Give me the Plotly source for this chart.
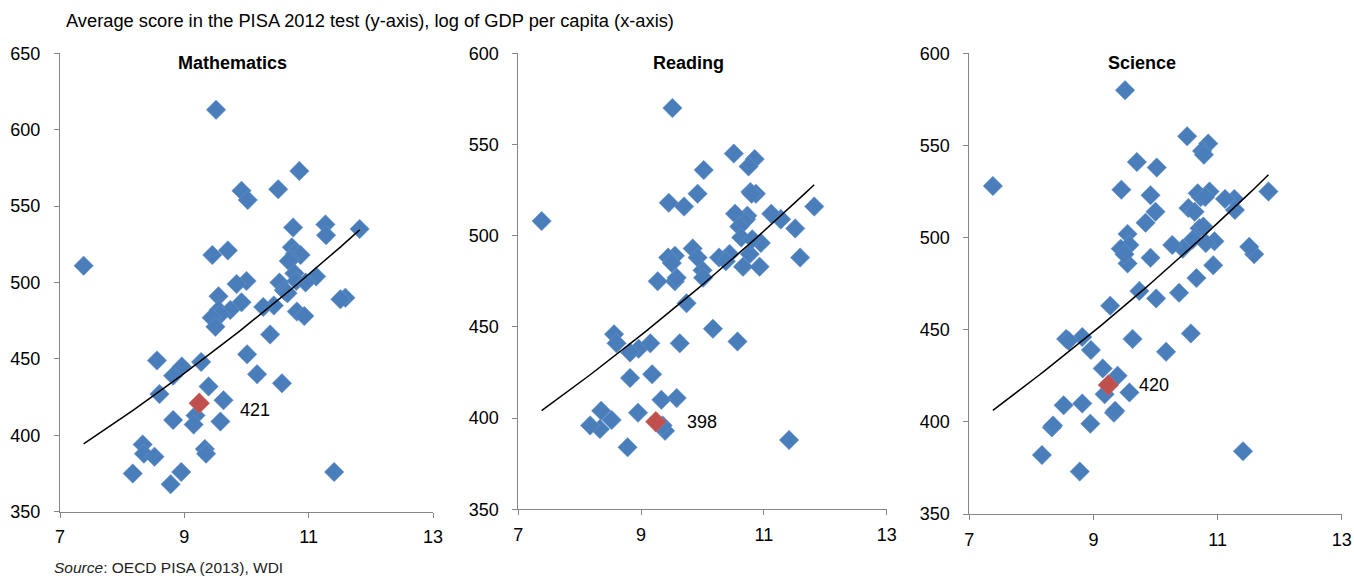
import numpy as np
import plotly.graph_objects as go

countries = ["Shanghai", "Singapore", "Hong Kong", "Chinese Taipei", "Korea", "Macao", "Japan",
             "Liechtenstein", "Switzerland", "Netherlands", "Estonia", "Finland", "Canada", "Poland",
             "Belgium", "Germany", "Vietnam", "Austria", "Australia", "Ireland", "Slovenia", "Denmark",
             "New Zealand", "Czech Republic", "France", "United Kingdom", "Iceland", "Latvia",
             "Luxembourg", "Norway", "Portugal", "Italy", "Spain", "Russia", "Slovak Republic",
             "United States", "Lithuania", "Sweden", "Hungary", "Croatia", "Israel", "Greece",
             "Serbia", "Turkey", "Romania", "Cyprus", "Bulgaria", "UAE", "Kazakhstan", "Thailand",
             "Chile", "Malaysia", "Mexico", "Montenegro", "Uruguay", "Costa Rica", "Albania",
             "Brazil", "Argentina", "Tunisia", "Jordan", "Colombia", "Qatar", "Indonesia", "Peru"]

log_gdp = [9.51, 10.85, 10.51, 9.92, 10.02, 11.27, 10.75,
           11.82, 11.28, 10.73, 9.70, 10.78, 10.87, 9.45,
           10.71, 10.68, 7.38, 10.77, 11.12, 10.80, 10.00, 10.95,
           10.53, 9.84, 10.60, 10.63, 10.66, 9.55,
           11.59, 11.51, 9.92, 10.44, 10.27, 9.55, 9.74,
           10.81, 9.58, 10.93, 9.44, 9.50, 10.38, 10.01,
           8.56, 9.27, 8.96, 10.17, 8.82, 10.57, 9.39, 8.60,
           9.63, 9.24, 9.18, 8.82, 9.58, 9.15, 8.33,
           9.33, 9.35, 8.35, 8.52, 8.95, 11.41, 8.17, 8.78]

math = [613, 573, 561, 560, 554, 538, 536,
        535, 531, 523, 521, 519, 518, 518,
        515, 514, 511, 506, 504, 501, 501, 500,
        500, 499, 495, 494, 493, 491,
        490, 489, 487, 485, 484, 482, 482,
        481, 479, 478, 477, 471, 466, 453,
        449, 448, 445, 440, 439, 434, 432, 427,
        423, 421, 413, 410, 409, 407, 394,
        391, 388, 388, 386, 376, 376, 375, 368]

reading = [570, 542, 545, 523, 536, 509, 538,
           516, 509, 511, 516, 524, 523, 518,
           509, 508, 508, 490, 512, 523, 481, 496,
           512, 493, 505, 499, 483, 489,
           488, 504, 488, 490, 488, 475, 463,
           498, 477, 483, 488, 485, 486, 477,
           446, 475, 438, 449, 436, 442, 393, 441,
           441, 398, 424, 422, 411, 441, 394,
           410, 396, 404, 399, 403, 388, 396, 384]

science = [580, 551, 555, 523, 538, 521, 547,
           525, 515, 522, 541, 545, 525, 526,
           505, 524, 528, 506, 521, 522, 514, 498,
           516, 508, 499, 514, 478, 502,
           491, 495, 489, 494, 496, 486, 471,
           497, 496, 485, 494, 491, 470, 467,
           445, 463, 439, 438, 446, 448, 425, 444,
           445, 420, 415, 410, 416, 429, 397,
           405, 406, 398, 409, 399, 384, 382, 373]

highlight = "Malaysia"
panel_titles = ["Mathematics", "Reading", "Science"]
y_ranges = [[350, 650], [350, 600], [350, 600]]
x_ticks = [7, 9, 11, 13]

BLUE = "#4A7EBB"
RED = "#C0504D"
AXIS = "#868686"
FONT = "Liberation Sans, Arial, sans-serif"

# the page body margin is removed (post_script below), so the figure fills the window
W, H = 1354, 581


def px(xp):
    return xp / W


def py(yp):
    return 1 - yp / H


x_px = [(60, 433), (518.3, 886.7), (969.3, 1341.7)]
y_px = [(53.3, 511.7), (53.3, 509.3), (53.3, 514.0)]
title_px = [232, 688, 1142]
label_shift = [(39, -7), (29, 0), (29, 0)]

fig = go.Figure()
series = [math, reading, science]
hi = countries.index(highlight)
x_arr = np.array(log_gdp)

for i, vals in enumerate(series):
    ax = "" if i == 0 else str(i + 1)
    xref, yref = "x" + ax, "y" + ax
    y_arr = np.array(vals, dtype=float)
    mask = np.arange(len(vals)) != hi
    fig.add_trace(go.Scatter(
        x=x_arr[mask], y=y_arr[mask], mode="markers", xaxis=xref, yaxis=yref,
        marker=dict(symbol="diamond", size=15, color=BLUE, line=dict(width=0.5, color="#6A96CC")),
        hovertext=[c for j, c in enumerate(countries) if j != hi], showlegend=False))
    fig.add_trace(go.Scatter(
        x=[x_arr[hi]], y=[y_arr[hi]], mode="markers", xaxis=xref, yaxis=yref,
        marker=dict(symbol="diamond", size=16, color=RED, line=dict(width=0.5, color="#D07270")),
        hovertext=[highlight], showlegend=False))
    # exponential trend line fitted to the data
    b, a = np.polyfit(x_arr, np.log(y_arr), 1)
    xs = np.linspace(x_arr.min(), x_arr.max(), 60)
    fig.add_trace(go.Scatter(
        x=xs, y=np.exp(a + b * xs), mode="lines", xaxis=xref, yaxis=yref,
        line=dict(color="black", width=1.5), hoverinfo="skip", showlegend=False))

    x0, x1 = x_px[i]
    yt, yb = y_px[i]
    axis_common = dict(showgrid=False, zeroline=False, showline=True, linecolor=AXIS,
                       linewidth=1, ticks="outside", ticklen=5, tickcolor=AXIS, automargin=False,
                       tickfont=dict(family=FONT, size=18, color="black"))
    fig.update_layout(**{
        "xaxis" + ax: dict(domain=[px(x0), px(x1)], range=[7, 13], tickvals=x_ticks,
                           anchor=yref, ticklabelstandoff=4, **axis_common),
        "yaxis" + ax: dict(domain=[py(yb), py(yt)], range=y_ranges[i], dtick=50,
                           anchor=xref, ticklabelstandoff=10, **axis_common),
    })
    fig.add_annotation(x=px(title_px[i]), y=py(63), xref="paper", yref="paper",
                       text="<b>" + panel_titles[i] + "</b>", showarrow=False,
                       xanchor="center", yanchor="middle",
                       font=dict(family=FONT, size=18, color="black"))
    dx, dy = label_shift[i]
    fig.add_annotation(x=x_arr[hi], y=y_arr[hi], xref=xref, yref=yref,
                       text=str(int(y_arr[hi])), showarrow=False, xanchor="left",
                       yanchor="middle", xshift=dx, yshift=dy,
                       font=dict(family=FONT, size=18, color="black"))

fig.add_annotation(x=px(64), y=py(20), xref="paper", yref="paper",
                   text="Average score in the PISA 2012 test (y-axis), log of GDP per capita (x-axis)",
                   showarrow=False, xanchor="left", yanchor="middle",
                   font=dict(family=FONT, size=18.3, color="black"))
fig.add_annotation(x=px(52), y=py(567), xref="paper", yref="paper",
                   text="<i>Source</i>: OECD PISA (2013), WDI",
                   showarrow=False, xanchor="left", yanchor="middle",
                   font=dict(family=FONT, size=15.5, color="#222222"))

fig.update_layout(width=W, height=H, margin=dict(l=0, r=0, t=0, b=0, autoexpand=False),
                  paper_bgcolor="white", plot_bgcolor="white", showlegend=False)
fig.write_html("out.html", config={"displayModeBar": False},
               post_script="document.body.style.margin='0';document.body.style.overflow='hidden';")
